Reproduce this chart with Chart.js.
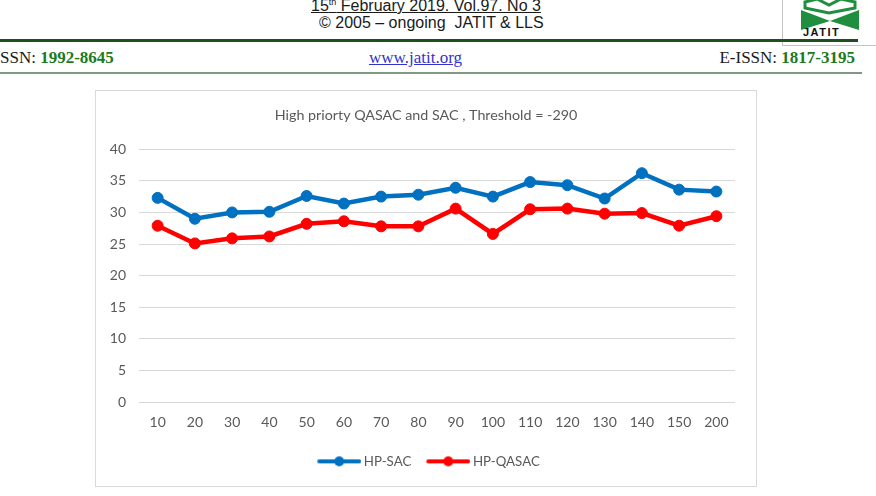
<!DOCTYPE html>
<html>
<head>
<meta charset="utf-8">
<script src="https://cdn.jsdelivr.net/npm/chart.js@4.4.1/dist/chart.umd.min.js"></script>
<style>
  body { margin: 0; background: #fff; width: 876px; height: 496px; overflow: hidden; position: relative; }
  .hd { position: absolute; white-space: nowrap; }
  .sans { font-family: "Liberation Sans", Arial, sans-serif; font-size: 16px; color: #1a1a1a; }
  .serif { font-family: "Liberation Serif", "Times New Roman", serif; font-size: 17px; color: #1a1a1a; }
  .num { color: #1d7a1d; font-weight: bold; }
  .rule-top { position: absolute; left: 0; top: 39px; width: 858px; height: 3px; background: #1f4f1f; }
  .rule-bot { position: absolute; left: 0; top: 72px; width: 862px; height: 2px; background: #7f9a7f; }
  .logo { position: absolute; left: 782px; top: -1px; width: 96px; height: 46px; border-left: 1px solid #c4c4c4; border-bottom: 1px solid #c4c4c4; }
  .chart-box { position: absolute; left: 95px; top: 90px; width: 660px; height: 395px; border: 1px solid #d9d9d9; }
</style>
</head>
<body>
<div class="logo">
  <svg width="96" height="46" viewBox="0 0 96 46">
    <path d="M22 3 L34 0 L46 6 L58 0 L72 3 L72 9 L46 14 L22 9 Z" fill="none" stroke="#1f8f3f" stroke-width="3"/>
    <path d="M18 11 L47 22 L18 31 Z" fill="#1f8f3f"/>
    <path d="M76 11 L47 22 L76 31 Z" fill="#1f8f3f"/>
  </svg>
  <div class="hd" style="left: 20px; top: 27px; font-family: 'Liberation Sans', Arial, sans-serif; font-weight: bold; font-size: 11px; letter-spacing: 1.5px; color: #111;">JATIT</div>
</div>

<div class="hd sans" style="left: 311px; top: -3px; text-decoration: underline;">15<sup style="font-size: 9px;">th</sup> February 2019. Vol.97. No 3</div>
<div class="hd sans" style="left: 319px; top: 14px;">© 2005 – ongoing&nbsp; JATIT &amp; LLS</div>
<div class="rule-top"></div>
<div class="hd serif" style="left: 0; top: 48px;">SSN: <span class="num">1992-8645</span></div>
<div class="hd serif" style="left: 369px; top: 48px; color: #3333cc; text-decoration: underline;">www.jatit.org</div>
<div class="hd serif" style="right: 21px; top: 48px;">E-ISSN: <span class="num">1817-3195</span></div>
<div class="rule-bot"></div>

<div class="chart-box"><canvas id="myChart" width="660" height="395"></canvas></div>

<script>
const chartTitle = "High priorty QASAC and SAC , Threshold = -290";
const categories = ["10", "20", "30", "40", "50", "60", "70", "80", "90", "100", "110", "120", "130", "140", "150", "200"];
const hpSac = [32.3, 29.0, 30.0, 30.1, 32.6, 31.4, 32.5, 32.8, 33.9, 32.5, 34.8, 34.3, 32.2, 36.2, 33.6, 33.3];
const hpQasac = [27.9, 25.1, 25.9, 26.2, 28.2, 28.6, 27.8, 27.8, 30.6, 26.6, 30.5, 30.6, 29.8, 29.9, 27.9, 29.4];
const yTicks = [0, 5, 10, 15, 20, 25, 30, 35, 40];

const blue = "#0070C0";
const red = "#FF0000";
const textGrey = "#595959";
const font = { family: "Lato, 'Open Sans', sans-serif", size: 14 };

// legend marker: a thick line with a dot, drawn on the right part of the image
function legendMarker(color) {
  const c = document.createElement("canvas");
  c.width = 53;
  c.height = 14;
  const g = c.getContext("2d");
  g.strokeStyle = color;
  g.lineWidth = 4;
  g.lineCap = "round";
  g.beginPath();
  g.moveTo(11, 7);
  g.lineTo(51, 7);
  g.stroke();
  g.fillStyle = color;
  g.beginPath();
  g.arc(31, 7, 5, 0, Math.PI * 2);
  g.fill();
  return c;
}

const markers = [legendMarker(blue), legendMarker(red)];

const ctx = document.getElementById("myChart").getContext("2d");
const chart = new Chart(ctx, {
  type: "line",
  data: {
    labels: categories,
    datasets: [{
      label: "HP-SAC",
      data: hpSac,
      borderColor: blue,
      backgroundColor: blue,
      borderWidth: 4.5,
      pointRadius: 5.5,
      pointBorderWidth: 1,
      pointBackgroundColor: blue,
      pointBorderColor: blue,
      tension: 0,
    }, {
      label: "HP-QASAC",
      data: hpQasac,
      borderColor: red,
      backgroundColor: red,
      borderWidth: 4.5,
      pointRadius: 5.5,
      pointBorderWidth: 1,
      pointBackgroundColor: red,
      pointBorderColor: red,
      tension: 0,
    }],
  },
  options: {
    responsive: false,
    animation: false,
    layout: { padding: { left: 0, right: 0, top: 0, bottom: 8 } },
    plugins: {
      title: {
        display: true,
        text: chartTitle,
        color: textGrey,
        font: { family: font.family, size: 14.3, weight: "normal" },
        padding: { top: 16, bottom: 25 },
      },
      legend: {
        position: "bottom",
        labels: {
          color: textGrey,
          font: { family: font.family, size: 13.3 },
          usePointStyle: true,
          pointStyleWidth: 45,
          padding: 10,
          generateLabels: (c) => Chart.defaults.plugins.legend.labels.generateLabels(c)
            .map((item, i) => ({ ...item, pointStyle: markers[i] })),
        },
      },
      tooltip: { enabled: false },
    },
    scales: {
      x: {
        offset: true,
        grid: { display: false, drawTicks: false },
        border: { display: false },
        ticks: { color: textGrey, font, padding: 12, maxRotation: 0 },
        afterFit: (scale) => { scale.height = 42.5; },
      },
      y: {
        min: 0,
        max: 40,
        grid: { color: "#d9d9d9", lineWidth: 1, drawTicks: false },
        border: { display: false },
        ticks: {
          color: textGrey,
          font,
          padding: 13,
          stepSize: 5,
          callback: (v) => (yTicks.includes(v) ? String(v) : ""),
        },
        afterFit: (scale) => { scale.width = 43; },
      },
      yRight: {
        position: "right",
        grid: { display: false, drawTicks: false },
        border: { display: false },
        ticks: { display: false },
        afterFit: (scale) => { scale.width = 21; },
      },
    },
  },
});
</script>
</body>
</html>
